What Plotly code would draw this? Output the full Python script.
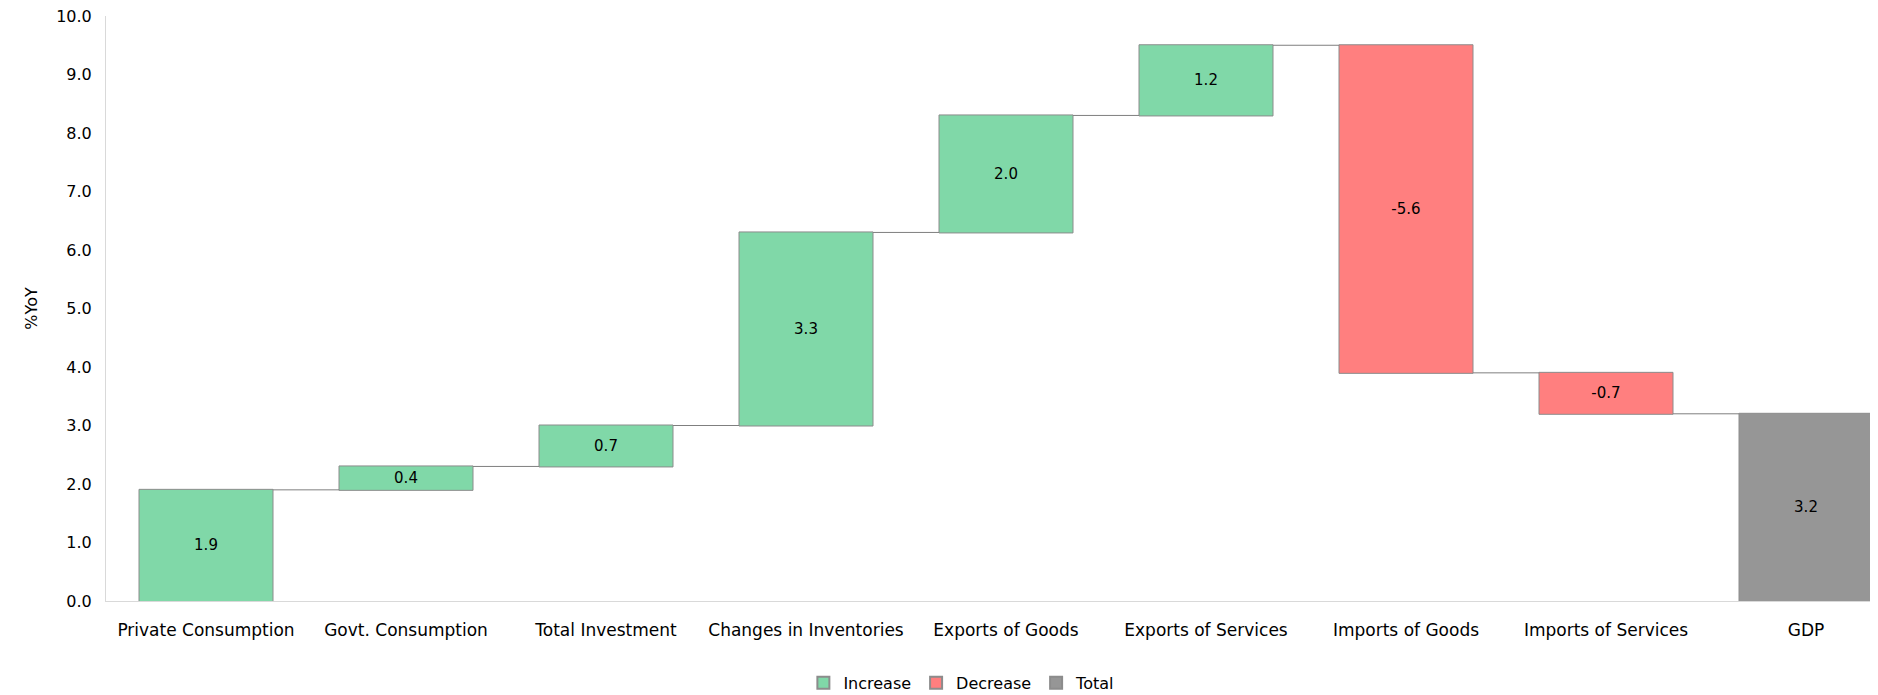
import plotly.graph_objects as go

categories = [
    "Private Consumption",
    "Govt. Consumption",
    "Total Investment",
    "Changes in Inventories",
    "Exports of Goods",
    "Exports of Services",
    "Imports of Goods",
    "Imports of Services",
    "GDP",
]
values = [1.9, 0.4, 0.7, 3.3, 2.0, 1.2, -5.6, -0.7, 3.2]
measures = ["relative"] * 8 + ["total"]

GREEN = "#80d8a8"
RED = "#ff7f7f"
GREY = "#969696"
EDGE = "#8c8c8c"
FONT = "DejaVu Sans"

fig = go.Figure()
fig.add_trace(
    go.Waterfall(
        x=categories,
        y=values,
        measure=measures,
        text=[f"{v:.1f}" for v in values],
        textposition="inside",
        insidetextanchor="middle",
        textfont=dict(family=FONT, size=15, color="black"),
        increasing=dict(marker=dict(color=GREEN, line=dict(color=EDGE, width=1))),
        decreasing=dict(marker=dict(color=RED, line=dict(color=EDGE, width=1))),
        totals=dict(marker=dict(color=GREY, line=dict(color=EDGE, width=1))),
        connector=dict(line=dict(color="#7f7f7f", width=1)),
        width=0.67,
        showlegend=False,
    )
)

# legend entries for the three bar kinds
for name, col in [("Increase", GREEN), ("Decrease", RED), ("Total", GREY)]:
    fig.add_trace(
        go.Scatter(
            x=[None],
            y=[None],
            mode="markers",
            name=name,
            marker=dict(symbol="square", size=13, color=col, line=dict(color=EDGE, width=1)),
        )
    )

# the page body adds an 8px offset; the right edge of the last bar runs to the window edge
fig.update_layout(
    template=None,
    width=1870,
    height=700,
    paper_bgcolor="white",
    plot_bgcolor="white",
    margin=dict(l=98, r=0, t=8, b=107),
    font=dict(family=FONT, size=15, color="black"),
    uniformtext=dict(minsize=15, mode="show"),
    legend=dict(
        orientation="h",
        x=0.483,
        xanchor="center",
        y=-0.14,
        yanchor="middle",
        font=dict(size=16),
        itemsizing="constant",
    ),
    xaxis=dict(
        range=[-0.5, 8.36],
        showline=True,
        linecolor="#d9d9d9",
        linewidth=1,
        showgrid=False,
        zeroline=False,
        ticks="",
        ticklabelstandoff=14,
        tickfont=dict(size=17),
    ),
    yaxis=dict(
        range=[0, 10],
        dtick=1,
        tickformat=".1f",
        showline=True,
        linecolor="#d9d9d9",
        linewidth=1,
        showgrid=False,
        zeroline=False,
        ticks="",
        ticklabelstandoff=10,
        ticklabeloverflow="allow",
        tickfont=dict(size=16),
        title=dict(text="%YoY", font=dict(size=16), standoff=14),
    ),
)

fig.write_html("out.html")
